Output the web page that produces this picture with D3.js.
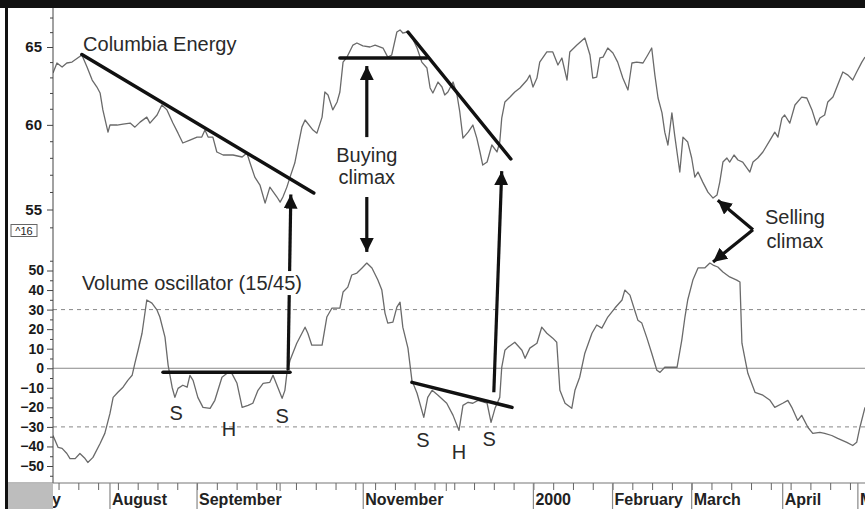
<!DOCTYPE html>
<html><head><meta charset="utf-8">
<script src="https://cdn.jsdelivr.net/npm/d3@7"></script>
<style>html,body{margin:0;padding:0;background:#fff;}svg{display:block;font-family:"Liberation Sans",Arial,sans-serif;}</style>
</head><body><svg id="c" width="865" height="509"></svg>
<script>
// ---- data (x = trading-day index from the first bar shown) ----
const priceDays = [0,1.0,2.3,3.5,4.8,7.3,8.6,9.9,11.1,11.9,12.6,13.6,13.9,14.4,16.2,17.7,19.5,20.7,22.0,23.7,24.5,26.3,27.5,28.8,30.3,31.6,32.8,34.6,36.4,37.6,38.4,39.2,40.4,41.4,43.0,45.5,47.8,49.0,49.8,51.0,52.3,53.6,54.8,56.6,57.4,58.1,59.1,59.9,61.1,61.9,62.9,63.7,65.7,66.7,68.0,68.7,69.5,70.7,71.8,72.5,73.3,74.3,75.8,76.8,78.3,80.1,81.4,83.4,84.6,85.6,86.9,87.7,88.4,89.4,90.7,92.0,93.2,94.5,95.3,96.0,97.3,98.3,99.0,99.8,101.1,102.1,102.8,103.6,104.9,106.1,107.1,107.9,108.6,109.7,110.9,112.2,112.9,113.4,114.2,115.5,116.7,118.0,119.8,120.5,121.3,122.3,123.0,124.8,126.3,127.6,128.6,129.9,130.6,132.4,134.4,135.7,136.4,137.4,138.2,139.0,140.2,141.5,142.7,144.0,145.3,146.3,147.5,149.1,150.3,151.3,152.1,152.9,153.9,154.6,155.4,156.4,157.1,157.9,158.4,159.2,160.4,161.4,162.2,163.0,164.2,165.5,166.8,167.8,168.5,169.3,170.3,171.0,172.1,173.1,174.3,176.1,176.9,178.1,179.4,181.2,182.4,183.2,184.2,184.9,186.2,187.5,189.2,190.5,191.8,193.0,193.8,195.0,195.8,197.1,198.3,199.6,200.9,202.1,203.1,204.4,205.2];
const priceValues = [63.28,63.94,63.68,63.94,64.00,64.47,63.68,62.83,62.38,62.00,60.93,59.86,59.55,59.99,59.99,60.05,60.11,59.86,60.17,60.48,60.11,60.61,61.24,60.93,60.11,59.49,58.89,59.07,59.25,59.25,59.68,59.25,59.25,58.35,58.17,58.17,58.05,58.29,57.69,56.86,56.40,55.36,56.28,55.71,55.42,55.71,56.28,56.86,57.69,58.65,59.86,60.30,59.68,59.49,60.48,62.06,61.87,60.93,61.43,62.06,64.00,64.33,65.13,65.27,65.07,65.00,65.13,64.93,64.33,64.47,66.01,66.15,65.94,66.01,65.67,64.93,64.00,63.61,62.32,62.00,62.70,62.38,61.87,62.06,62.70,61.87,60.80,59.19,59.55,59.99,59.19,58.35,57.57,57.75,58.77,58.35,58.95,60.42,61.43,61.74,62.06,62.32,62.83,63.15,62.38,62.96,64.00,64.67,64.67,63.81,64.27,62.83,64.67,65.13,65.60,64.47,62.96,63.02,64.27,64.33,64.93,64.60,64.00,62.96,62.19,63.94,64.00,63.94,64.47,64.93,63.15,61.68,60.74,59.55,58.77,60.74,59.37,57.99,57.16,59.25,58.95,57.99,56.86,57.16,56.57,55.99,55.65,55.82,56.57,57.75,57.99,57.75,58.17,57.87,57.75,57.16,57.75,57.99,58.35,59.07,59.55,59.25,60.42,60.61,60.11,61.24,61.74,61.68,60.93,59.99,60.42,60.61,61.43,61.74,62.51,63.35,63.15,62.83,63.35,64.00,64.33];
const oscDays = [0,1.3,2.3,3.5,4.3,5.6,6.8,8.1,8.8,10.1,11.9,13.1,14.4,15.2,16.4,17.7,18.9,20.0,20.7,21.5,22.5,23.7,25.0,26.3,27.0,28.3,29.1,30.1,30.8,31.6,32.8,33.9,34.6,35.4,36.6,37.9,39.7,40.9,42.7,44.0,45.2,46.5,47.8,49.3,50.5,51.8,53.1,54.8,55.6,56.8,57.9,58.6,59.1,59.9,61.6,63.7,64.4,65.4,68.0,69.2,70.5,72.5,73.3,74.5,75.5,76.8,78.1,79.3,80.6,82.1,83.1,83.9,84.6,85.9,86.9,87.7,88.4,89.7,90.7,92.0,93.7,94.7,95.8,97.3,99.5,101.1,102.6,103.6,104.9,106.1,107.4,109.7,110.7,111.7,112.9,113.4,114.2,115.0,116.7,118.5,119.3,120.5,122.3,123.5,124.8,126.3,127.3,128.1,129.4,131.1,131.9,133.1,134.4,136.2,137.4,138.7,140.2,142.0,143.8,144.5,145.8,147.0,147.8,148.8,150.1,151.3,152.6,153.4,154.6,156.6,157.7,158.9,159.7,160.4,161.7,163.0,164.7,166.0,166.8,168.0,169.3,171.0,172.8,173.6,174.1,174.8,175.6,177.4,179.4,181.2,182.4,184.4,185.7,186.7,188.2,189.2,190.8,192.0,193.8,195.0,196.8,198.3,200.6,202.1,203.1,203.9,205.2];
const oscValues = [-34.4,-40.5,-41.0,-43.6,-46.2,-46.2,-43.6,-46.2,-48.2,-45.6,-38.5,-33.3,-23.1,-14.9,-12.3,-9.7,-6.2,-3.6,2.6,9.2,17.9,34.9,33.3,29.7,26.2,15.9,1.5,-9.7,-14.9,-10.3,-8.7,-9.7,-3.6,-6.2,-14.9,-20.0,-20.5,-16.4,-4.6,-2.6,-2.6,-7.7,-20.0,-19.0,-17.9,-11.3,-7.7,-7.2,-3.6,-9.7,-15.4,-11.3,-2.6,4.1,12.8,21.0,17.9,11.8,11.8,26.2,30.8,30.8,39.0,41.5,47.7,48.7,51.3,53.8,51.3,45.1,40.0,28.2,23.1,23.6,31.3,33.8,21.0,10.3,-6.2,-12.8,-25.1,-14.9,-11.3,-13.8,-17.9,-24.1,-31.8,-19.0,-17.4,-17.9,-16.4,-17.9,-27.7,-20.5,-14.9,0.5,9.2,10.8,13.3,9.2,5.1,10.3,12.8,21.0,17.9,15.4,13.3,-11.3,-17.9,-20.5,-11.3,-4.6,7.7,17.9,22.1,20.5,26.2,30.8,34.9,40.0,37.4,29.7,24.6,23.1,15.4,7.7,-1.0,-2.1,0.5,0.5,0.5,14.4,26.2,34.9,45.1,51.3,51.3,53.8,52.8,51.8,49.2,46.7,45.1,44.1,12.8,5.6,-2.6,-12.3,-13.8,-16.4,-20.0,-17.9,-16.4,-20.0,-26.7,-24.1,-30.3,-33.3,-32.8,-33.3,-34.4,-35.9,-37.9,-39.5,-37.9,-30.3,-20.0];
const priceTicks = [55,60,65];
const priceMinorTicks = [54,55,56,57,58,59,60,61,62,63,64,65,66,67];
const oscTicks = [50,40,30,20,10,0,-10,-20,-30,-40,-50];
const oscMinorTicks = d3.range(-55,60,5);
const oscRefLines = [30,-30];
const monthNames = ["July","August","September","October","November","December","2000","February","March","April","May"];
const monthStarts = [-6.6,14.4,36.4,57.4,78.4,99.4,121.4,141.4,161.4,184.4,203.4];
const monthLabeled = [true,true,true,false,true,false,true,true,true,true,true];

// annotation geometry in data units
const priceLines = [[[7.3,64.5],[65.9,55.94]],[[72.5,64.27],[94.5,64.27]],[[89.7,66.01],[115.7,57.93]]];
const oscLines = [[[27.8,-2.05],[59.9,-2.05]],[[90.7,-7.2],[116.0,-20.0]]];
const arrows = [
  {a:{d:79.3,p:59.25}, b:{d:79.3,p:63.74}},
  {a:{d:79.3,p:55.71}, b:{d:79.3,o:59.5}},
  {a:{d:59.4,o:-1.0}, b:{d:60.1,p:55.85}},
  {a:{d:111.4,o:-12.3}, b:{d:113.4,p:57.21}},
  {a:{d:176.9,o:70.8}, b:{d:168.0,p:55.53}},
  {a:{d:176.9,o:70.8}, b:{d:166.8,o:54.4}}
];
const labels = [
  {t:"Columbia Energy", d:7.6, p:64.70, anchor:"start"},
  {t:"Volume oscillator (15/45)", d:7.3, o:40.0, anchor:"start", bg:true},
  {t:"Buying", d:79.3, p:57.75, anchor:"middle"},
  {t:"climax", d:79.3, p:56.46, anchor:"middle"},
  {t:"Selling", d:187.5, p:54.18, anchor:"middle"},
  {t:"climax", d:187.5, p:52.86, anchor:"middle"},
  {t:"S", d:31.1, o:-26.7, anchor:"middle"},
  {t:"H", d:44.5, o:-34.4, anchor:"middle"},
  {t:"S", d:57.9, o:-28.2, anchor:"middle"},
  {t:"S", d:93.5, o:-40.5, anchor:"middle"},
  {t:"H", d:102.6, o:-46.2, anchor:"middle"},
  {t:"S", d:110.2, o:-40.0, anchor:"middle"}
];

// ---- drawing ----
const W = 865, H = 509, left = 53, right = 865, axisY = 483;
const svg = d3.select("#c");
const x = d3.scaleLinear().domain([0,205.2]).range([left,right]);
const yP = d3.scaleLog().domain([55,65]).range([209.5,47]);
const yO = d3.scaleLinear().domain([-50,50]).range([466,270.5]);
const py = pt => pt.p !== undefined ? yP(pt.p) : yO(pt.o);

svg.append("rect").attr("width",W).attr("height",H).attr("fill","#fff");
svg.append("defs").append("clipPath").attr("id","plot").append("rect")
  .attr("x",left).attr("y",8).attr("width",right-left).attr("height",H-8);
svg.select("defs").append("marker").attr("id","ah").attr("markerUnits","userSpaceOnUse")
  .attr("markerWidth",16).attr("markerHeight",16).attr("refX",14).attr("refY",7).attr("orient","auto")
  .append("path").attr("d","M0,0 L14,7 L0,14 Z").attr("fill","#111");

// reference lines in oscillator pane
svg.append("g").selectAll("line").data(oscRefLines).join("line")
  .attr("x1",left).attr("x2",right).attr("y1",d=>yO(d)).attr("y2",d=>yO(d))
  .attr("stroke","#888").attr("stroke-width",1).attr("stroke-dasharray","4,4");
svg.append("line").attr("x1",left).attr("x2",right).attr("y1",yO(0)).attr("y2",yO(0))
  .attr("stroke","#888").attr("stroke-width",1);

// series
const g = svg.append("g").attr("clip-path","url(#plot)");
const priceData = priceDays.map((d,i)=>[d,priceValues[i]]);
const oscData = oscDays.map((d,i)=>[d,oscValues[i]]);
g.append("path").datum(priceData).attr("fill","none").attr("stroke","#6a6a6a").attr("stroke-width",1.3)
  .attr("stroke-linejoin","round").attr("d",d3.line().x(d=>x(d[0])).y(d=>yP(d[1])));
g.append("path").datum(oscData).attr("fill","none").attr("stroke","#6a6a6a").attr("stroke-width",1.3)
  .attr("stroke-linejoin","round").attr("d",d3.line().x(d=>x(d[0])).y(d=>yO(d[1])));

// annotation lines
g.append("g").selectAll("line").data(priceLines).join("line")
  .attr("x1",d=>x(d[0][0])).attr("y1",d=>yP(d[0][1])).attr("x2",d=>x(d[1][0])).attr("y2",d=>yP(d[1][1]))
  .attr("stroke","#111").attr("stroke-width",3.5).attr("stroke-linecap","round");
g.append("g").selectAll("line").data(oscLines).join("line")
  .attr("x1",d=>x(d[0][0])).attr("y1",d=>yO(d[0][1])).attr("x2",d=>x(d[1][0])).attr("y2",d=>yO(d[1][1]))
  .attr("stroke","#111").attr("stroke-width",3.5).attr("stroke-linecap","round");
g.append("g").selectAll("line").data(arrows).join("line")
  .attr("x1",d=>x(d.a.d)).attr("y1",d=>py(d.a)).attr("x2",d=>x(d.b.d)).attr("y2",d=>py(d.b))
  .attr("stroke","#111").attr("stroke-width",3.2).attr("marker-end","url(#ah)");

// text labels
const lg = svg.append("g");
labels.forEach(l=>{
  const t = lg.append("text").attr("x",x(l.d)).attr("y",py(l)).attr("text-anchor",l.anchor)
    .attr("font-size",20).attr("fill","#2a2a2a").text(l.t);
  if (l.bg) {
    const b = t.node().getBBox();
    lg.insert("rect","text").attr("x",b.x-2).attr("y",b.y-1).attr("width",b.width+4).attr("height",b.height+2).attr("fill","#fff");
  }
});

// y axes
const axG = svg.append("g");
axG.append("line").attr("x1",left).attr("x2",left).attr("y1",8).attr("y2",axisY).attr("stroke","#444");
axG.append("g").attr("transform",`translate(${left},0)`)
  .call(d3.axisLeft(yP).tickValues(priceMinorTicks.filter(v=>!priceTicks.includes(v))).tickSize(3).tickFormat(""))
  .call(s=>s.select(".domain").remove()).selectAll("line").attr("stroke","#444");
axG.append("g").attr("transform",`translate(${left},0)`)
  .call(d3.axisLeft(yP).tickValues(priceTicks).tickSize(6).tickFormat(d3.format("d")))
  .call(s=>s.select(".domain").remove())
  .call(s=>s.selectAll("line").attr("stroke","#444"))
  .call(s=>s.selectAll("text").attr("font-size",15).attr("font-weight","bold").attr("fill","#1a1a1a").attr("font-family","Liberation Sans, Arial, sans-serif").attr("dx",-2));
axG.append("g").attr("transform",`translate(${left},0)`)
  .call(d3.axisLeft(yO).tickValues(oscMinorTicks.filter(v=>v%10!==0)).tickSize(3).tickFormat(""))
  .call(s=>s.select(".domain").remove()).selectAll("line").attr("stroke","#444");
axG.append("g").attr("transform",`translate(${left},0)`)
  .call(d3.axisLeft(yO).tickValues(oscTicks).tickSize(6).tickFormat(d3.format("d")))
  .call(s=>s.select(".domain").remove())
  .call(s=>s.selectAll("line").attr("stroke","#444"))
  .call(s=>s.selectAll("text").attr("font-size",14).attr("font-weight","bold").attr("fill","#1a1a1a").attr("font-family","Liberation Sans, Arial, sans-serif").attr("dx",0));

// ^16 box
svg.append("rect").attr("x",11).attr("y",224.5).attr("width",26).attr("height",12).attr("fill","#fff").attr("stroke","#666").attr("stroke-width",1);
svg.append("text").attr("x",24).attr("y",234.5).attr("text-anchor","middle").attr("font-size",11).attr("fill","#222").text("^16");

// x axis band
svg.append("rect").attr("x",8).attr("y",axisY+1).attr("width",left-8).attr("height",H-axisY).attr("fill","#bdbdbd");
svg.append("line").attr("x1",8).attr("x2",right).attr("y1",axisY).attr("y2",axisY).attr("stroke","#777").attr("stroke-width",1.2);
const xg = svg.append("g").attr("clip-path","url(#plot)");
const weekTicks = d3.range(-6.6+3,205.2,5);
xg.append("g").attr("transform",`translate(0,${axisY})`)
  .call(d3.axisBottom(x).tickValues(weekTicks).tickSize(7).tickFormat(""))
  .call(s=>s.select(".domain").remove()).selectAll("line").attr("stroke","#666");
xg.append("g").selectAll("line").data(monthStarts.map((d,i)=>({d,lab:monthLabeled[i]}))).join("line")
  .attr("x1",d=>x(d.d)).attr("x2",d=>x(d.d)).attr("y1",axisY).attr("y2",d=>d.lab?H:axisY+8)
  .attr("stroke","#888").attr("stroke-width",1.2);
xg.append("g").selectAll("text").data(monthNames.map((n,i)=>({n,d:monthStarts[i],lab:monthLabeled[i]})).filter(m=>m.lab)).join("text")
  .attr("x",d=>x(d.d)+2).attr("y",H-4).attr("font-size",16).attr("font-weight","bold").attr("fill","#222").text(d=>d.n);

// frame
svg.append("rect").attr("x",0).attr("y",0).attr("width",W).attr("height",8).attr("fill","#111");
svg.append("rect").attr("x",5).attr("y",0).attr("width",3).attr("height",H).attr("fill","#111");
</script></body></html>
